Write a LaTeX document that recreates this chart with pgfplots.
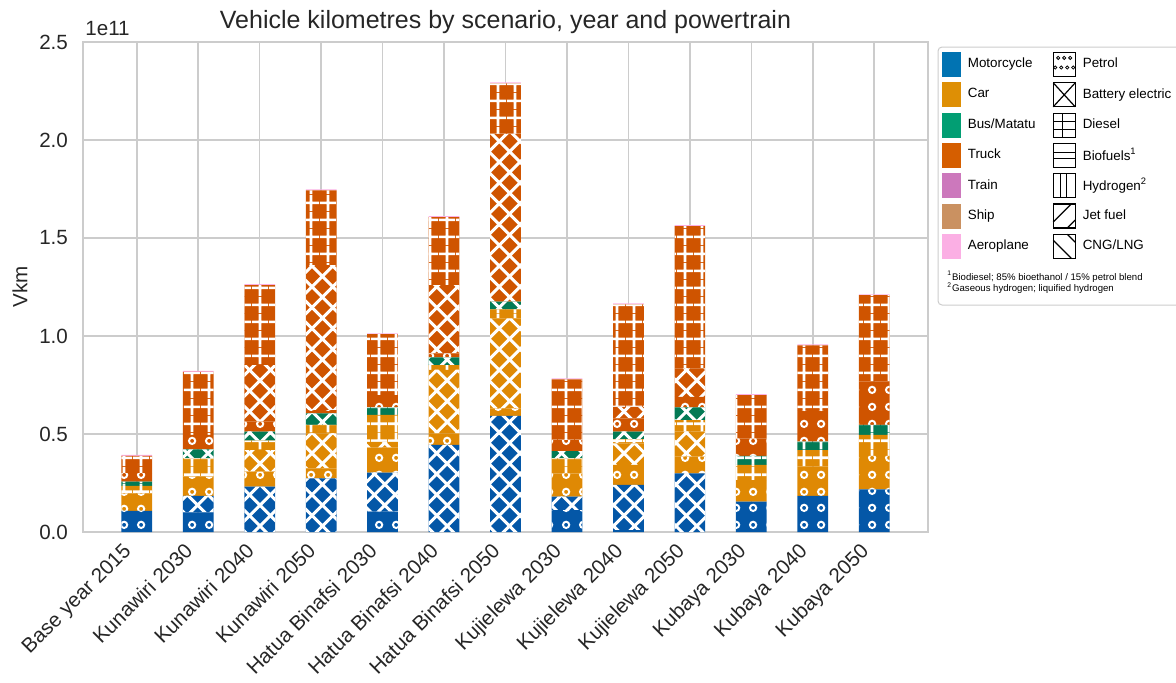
\documentclass[border=0pt]{standalone}
\usepackage{fontspec}
\setmainfont{Liberation Sans}
\usepackage{pgfplots}
\usepackage{pgfplotstable}
\pgfplotsset{compat=1.18}
\usetikzlibrary{patterns}

\definecolor{gridgray}{HTML}{CCCCCC}
\definecolor{txt}{HTML}{262626}
% bar colours (as drawn) and legend colours
\definecolor{moto}{HTML}{0457A7}
\definecolor{car}{HTML}{DF8904}
\definecolor{bus}{HTML}{037A55}
\definecolor{truck}{HTML}{CF5400}
\definecolor{air}{HTML}{FBAFE4}
\definecolor{lmoto}{HTML}{0173B2}
\definecolor{lcar}{HTML}{DE8F05}
\definecolor{lbus}{HTML}{029E73}
\definecolor{ltruck}{HTML}{D55E00}
\definecolor{ltrain}{HTML}{CC78BC}
\definecolor{lship}{HTML}{CA9161}
\definecolor{lair}{HTML}{FBAFE4}

% hatches
\pgfdeclarepatternformonly{vkrings}{\pgfqpoint{0pt}{0pt}}{\pgfqpoint{8.3pt}{8.3pt}}{\pgfqpoint{8.3pt}{8.3pt}}{%
  \pgfsetlinewidth{1pt}%
  \pgfpathcircle{\pgfqpoint{4.15pt}{4.15pt}}{1.6pt}%
  \pgfusepath{stroke}}
\pgfdeclarepatternformonly{vkgrid}{\pgfqpoint{0pt}{0pt}}{\pgfqpoint{8.3pt}{8.3pt}}{\pgfqpoint{8.3pt}{8.3pt}}{%
  \pgfsetlinewidth{1.4pt}%
  \pgfpathmoveto{\pgfqpoint{4.15pt}{0pt}}\pgfpathlineto{\pgfqpoint{4.15pt}{8.3pt}}%
  \pgfpathmoveto{\pgfqpoint{0pt}{4.15pt}}\pgfpathlineto{\pgfqpoint{8.3pt}{4.15pt}}%
  \pgfusepath{stroke}}
\pgfdeclarepatternformonly{vkcross}{\pgfqpoint{-0.8pt}{-0.8pt}}{\pgfqpoint{11.2pt}{11.2pt}}{\pgfqpoint{10.4pt}{10.4pt}}{%
  \pgfsetlinewidth{1.5pt}%
  \pgfpathmoveto{\pgfqpoint{-0.8pt}{-0.8pt}}\pgfpathlineto{\pgfqpoint{11.2pt}{11.2pt}}%
  \pgfpathmoveto{\pgfqpoint{-0.8pt}{11.2pt}}\pgfpathlineto{\pgfqpoint{11.2pt}{-0.8pt}}%
  \pgfusepath{stroke}}

\pgfplotsset{
  seg/.style 2 args={fill=#1, draw=none, forget plot,
    postaction={pattern=#2, pattern color=white}},
}

% legend images
\newcommand{\swatch}[1]{\addlegendimage{legend image code/.code={%
  \fill[#1] (0pt,-6pt) rectangle (9pt,6pt);}}}
\newcommand{\hatchimg}[1]{\addlegendimage{legend image code/.code={%
  \begin{scope}[line width=0.6pt, black]
  \draw (0pt,-6pt) rectangle (11pt,6pt); #1
  \end{scope}}}}

% Vkm in units of 1e11; columns: mode + powertrain
% mp/mb motorcycle petrol/BEV, cp/cb/cd car, bd/bb bus, tp/tb/td truck, oth train+ship+aeroplane
\pgfplotstableread{
x  mp    mb    cp    cb    cd    bd    bb    tp    tb    td    oth
0  0.108 0     0.089 0     0.038 0.022 0     0.043 0     0.088 0.005
1  0.100 0.084 0.098 0     0.094 0     0.046 0.073 0     0.322 0.005
2  0     0.231 0.077 0.110 0.048 0     0.046 0.051 0.289 0.408 0.005
3  0     0.274 0.051 0.178 0.043 0     0.059 0.017 0.740 0.381 0.005
4  0.104 0.199 0.127 0.030 0.137 0.039 0     0.063 0     0.310 0.005
5  0     0.444 0.059 0.324 0.025 0     0.039 0.021 0.348 0.347 0.005
6  0     0.592 0.039 0.459 0.046 0     0.039 0     0.856 0.258 0.005
7  0.112 0.068 0.119 0     0.077 0     0.037 0.056 0     0.310 0.005
8  0.010 0.230 0.102 0.110 0.022 0     0.038 0.068 0.059 0.523 0.005
9  0     0.299 0.085 0.128 0.059 0     0.065 0.054 0.145 0.726 0.005
10 0.155 0     0.110 0     0.077 0.046 0     0.090 0     0.221 0.005
11 0.184 0     0.149 0     0.085 0.043 0     0.161 0     0.330 0.005
12 0.218 0     0.171 0     0.106 0.051 0     0.221 0     0.441 0.005
}\vkm

\begin{document}
\begin{tikzpicture}
\begin{axis}[
  at={(0,0)}, anchor=south west,
  width=422.5pt, height=245pt, scale only axis,
  ybar stacked, bar width=0.5,
  xmin=-0.875, xmax=12.875, ymin=0, ymax=2.5,
  xtick={0,...,12},
  xticklabels={Base year 2015, Kunawiri 2030, Kunawiri 2040, Kunawiri 2050,
    Hatua Binafsi 2030, Hatua Binafsi 2040, Hatua Binafsi 2050,
    Kujielewa 2030, Kujielewa 2040, Kujielewa 2050,
    Kubaya 2030, Kubaya 2040, Kubaya 2050},
  ytick={0,0.5,...,2.5},
  /pgf/number format/fixed,
  /pgf/number format/fixed zerofill,
  /pgf/number format/precision=1,
  /pgf/number format/assume math mode=true,
  yticklabel style={anchor=east, xshift=-4pt},
  xticklabel style={xshift=-7.5pt, rotate=45, anchor=north east},
  tick label style={font=\fontsize{10.3}{12}\selectfont, text=txt},
  major tick length=0pt,
  grid=major,
  major grid style={gridgray, line width=0.8pt},
  axis line style={gridgray, line width=1pt},
  ylabel={Vkm},
  ylabel style={at={(axis description cs:-0.0746,0.5)}, anchor=center,
    font=\fontsize{10.3}{12}\selectfont, text=txt},
  legend columns=2,
  legend cell align=left,
  legend style={at={(axis description cs:1.0166,0.9798)}, anchor=north west,
    draw=none, fill=none, inner sep=0pt, outer sep=0pt,
    font=\fontsize{6.7}{8}\selectfont, text=black,
    row sep=2.55pt, column sep=0pt,
    nodes={inner sep=0pt},
    /tikz/column 1/.style={column sep=3.5pt},
    /tikz/column 2/.style={column sep=8.5pt},
    /tikz/column 3/.style={column sep=3.5pt}},
]
\addplot[seg={moto}{vkrings}]  table[x=x, y=mp] {\vkm};
\addplot[seg={moto}{vkcross}]  table[x=x, y=mb] {\vkm};
\addplot[seg={car}{vkrings}]   table[x=x, y=cp] {\vkm};
\addplot[seg={car}{vkcross}]   table[x=x, y=cb] {\vkm};
\addplot[seg={car}{vkgrid}]    table[x=x, y=cd] {\vkm};
\addplot[seg={bus}{vkgrid}]    table[x=x, y=bd] {\vkm};
\addplot[seg={bus}{vkcross}]   table[x=x, y=bb] {\vkm};
\addplot[seg={truck}{vkrings}] table[x=x, y=tp] {\vkm};
\addplot[seg={truck}{vkcross}] table[x=x, y=tb] {\vkm};
\addplot[seg={truck}{vkgrid}]  table[x=x, y=td] {\vkm};
\addplot[fill=air, draw=none, forget plot] table[x=x, y=oth] {\vkm};

\swatch{lmoto}\addlegendentry{Motorcycle}
\hatchimg{\foreach \px/\py in {2.5/3.3,5.5/3.3,8.5/3.3,1/-1.5,4/-1.5,7/-1.5,10/-1.5}
  \draw[line width=0.4pt] (\px pt,\py pt) circle (0.8pt);}
\addlegendentry{Petrol}
\swatch{lcar}\addlegendentry{Car}
\hatchimg{\draw (0pt,-6pt) -- (11pt,6pt) (0pt,6pt) -- (11pt,-6pt);}
\addlegendentry{Battery electric}
\swatch{lbus}\addlegendentry{Bus/Matatu}
\hatchimg{\draw (4.5pt,-6pt) -- (4.5pt,6pt) (0pt,-2pt) -- (11pt,-2pt) (0pt,2pt) -- (11pt,2pt);}
\addlegendentry{Diesel}
\swatch{ltruck}\addlegendentry{Truck}
\hatchimg{\draw (0pt,-1.5pt) -- (11pt,-1.5pt) (0pt,1.5pt) -- (11pt,1.5pt);}
\addlegendentry{Biofuels\textsuperscript{1}}
\swatch{ltrain}\addlegendentry{Train}
\hatchimg{\draw (3.5pt,-6pt) -- (3.5pt,6pt) (6.5pt,-6pt) -- (6.5pt,6pt);}
\addlegendentry{Hydrogen\textsuperscript{2}}
\swatch{lship}\addlegendentry{Ship}
\hatchimg{\draw (0pt,-3pt) -- (9pt,6pt) (7pt,-6pt) -- (11pt,-2pt);}
\addlegendentry{Jet fuel}
\swatch{lair}\addlegendentry{Aeroplane}
\hatchimg{\draw (0pt,3pt) -- (9pt,-6pt) (7pt,6pt) -- (11pt,2pt);}
\addlegendentry{CNG/LNG}
\end{axis}
\node[anchor=base, inner sep=0pt, font=\fontsize{12.5}{15}\selectfont, text=txt]
  at (211.25pt,251.8pt) {Vehicle kilometres by scenario, year and powertrain};
\node[anchor=base west, inner sep=0pt, font=\fontsize{10.3}{12}\selectfont, text=txt]
  at (1pt,248.5pt) {1e11};
\draw[gridgray, line width=0.5pt, rounded corners=2pt] (427.5pt,242.5pt) rectangle (552pt,113.5pt);
\node[anchor=base west, inner sep=0pt, font=\fontsize{4.8}{6}\selectfont]
  at (432pt,126pt) {\textsuperscript{1}Biodiesel; 85\% bioethanol / 15\% petrol blend};
\node[anchor=base west, inner sep=0pt, font=\fontsize{4.8}{6}\selectfont]
  at (432pt,120.2pt) {\textsuperscript{2}Gaseous hydrogen; liquified hydrogen};
\pgfresetboundingbox
\path[use as bounding box] (-41.5pt,-75pt) rectangle (546.5pt,266pt);
\end{tikzpicture}
\end{document}
